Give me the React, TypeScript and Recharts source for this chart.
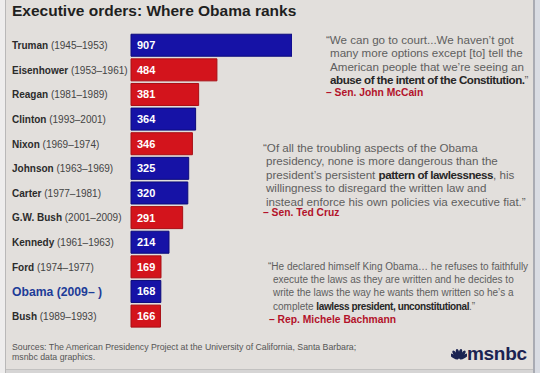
import { Bar, BarChart, Cell, LabelList, XAxis, YAxis } from "recharts";

const presidents = [
  "Truman",
  "Eisenhower",
  "Reagan",
  "Clinton",
  "Nixon",
  "Johnson",
  "Carter",
  "G.W. Bush",
  "Kennedy",
  "Ford",
  "Obama",
  "Bush",
];

const terms = [
  "(1945–1953)",
  "(1953–1961)",
  "(1981–1989)",
  "(1993–2001)",
  "(1969–1974)",
  "(1963–1969)",
  "(1977–1981)",
  "(2001–2009)",
  "(1961–1963)",
  "(1974–1977)",
  "(2009– )",
  "(1989–1993)",
];

const orders = [907, 484, 381, 364, 346, 325, 320, 291, 214, 169, 168, 166];

const parties = ["D", "R", "R", "D", "R", "D", "D", "R", "D", "R", "D", "R"];

const BLUE = "#1612a6";
const RED = "#d3141c";
const FONT = '"Liberation Sans", Arial, sans-serif';

const chartData = presidents.map((name, i) => ({
  name,
  term: terms[i],
  orders: orders[i],
  party: parties[i],
}));

function PresidentTick(props: any) {
  const { y, payload } = props;
  const idx = presidents.indexOf(payload.value);
  const isObama = payload.value === "Obama";
  if (isObama) {
    return (
      <text
        x={12}
        y={y}
        dy={4.5}
        fontFamily={FONT}
        fontSize={12.2}
        fontWeight={700}
        fill="#1d3c98"
      >
        {payload.value} {terms[idx]}
      </text>
    );
  }
  return (
    <text x={12} y={y} dy={3.8} fontFamily={FONT} fontSize={10}>
      <tspan fontWeight={700} fill="#2b2b2b">
        {payload.value}
      </tspan>
      <tspan fill="#444444"> {terms[idx]}</tspan>
    </text>
  );
}

function ValueLabel(props: any) {
  const { x, y, height, value } = props;
  return (
    <text
      x={x + 6}
      y={y + height / 2}
      dy={4}
      fontFamily={FONT}
      fontSize={11}
      fontWeight={700}
      fill="#ffffff"
    >
      {value}
    </text>
  );
}

const quoteText: React.CSSProperties = {
  position: "absolute",
  fontFamily: FONT,
  fontSize: 11.6,
  lineHeight: "13.4px",
  color: "#5e5e5e",
  whiteSpace: "nowrap",
};

const strong: React.CSSProperties = {
  color: "#262626",
  fontWeight: 700,
  letterSpacing: -0.45,
};

const attribution: React.CSSProperties = {
  color: "#b3122a",
  fontWeight: 700,
  fontSize: 10.3,
  letterSpacing: 0,
};

export default function App() {
  return (
    <div
      style={{
        position: "absolute",
        left: 0,
        top: 0,
        width: 540,
        height: 373,
        background: "#e2dfdc",
        overflow: "hidden",
        fontFamily: FONT,
      }}
    >
      {/* frame edges */}
      <div
        style={{
          position: "absolute",
          left: 0,
          top: 0,
          width: 5,
          height: 373,
          background: "#eeeded",
          borderRight: "1px solid #b9b8b8",
        }}
      />
      <div
        style={{
          position: "absolute",
          left: 533,
          top: 0,
          width: 7,
          height: 373,
          background: "#d9dce3",
          borderLeft: "2px solid #a9abb3",
        }}
      />
      <div
        style={{
          position: "absolute",
          left: 6,
          top: 369,
          width: 527,
          height: 4,
          background: "#d6d5d5",
          borderTop: "1px solid #c2c1c0",
        }}
      />

      <div
        style={{
          position: "absolute",
          left: 12,
          top: 2,
          fontSize: 15.5,
          fontWeight: 700,
          color: "#1f1f1f",
          whiteSpace: "nowrap",
        }}
      >
        Executive orders: Where Obama ranks
      </div>

      <div style={{ position: "absolute", left: 0, top: 0 }}>
        <BarChart
          width={292}
          height={330}
          data={chartData}
          layout="vertical"
          margin={{ top: 33, right: 0, bottom: 1.5, left: 0 }}
          barCategoryGap="5%"
        >
          <XAxis type="number" domain={[0, 907]} hide />
          <YAxis
            type="category"
            dataKey="name"
            width={131}
            axisLine={false}
            tickLine={false}
            tick={<PresidentTick />}
            interval={0}
          />
          <Bar dataKey="orders" isAnimationActive={false} strokeWidth={1}>
            {chartData.map((d) => (
              <Cell
                key={d.name}
                fill={d.party === "D" ? BLUE : RED}
                stroke={d.party === "D" ? "#0c0a7a" : "#a80e14"}
              />
            ))}
            <LabelList dataKey="orders" content={<ValueLabel />} />
          </Bar>
        </BarChart>
      </div>

      <div style={{ ...quoteText, left: 326, top: 33 }}>
        <div>“We can go to court...We haven’t got</div>
        <div style={{ paddingLeft: 4 }}>
          many more options except [to] tell the
          <br />
          American people that we’re seeing an
          <br />
          <span style={strong}>abuse of the intent of the Constitution.</span>”
        </div>
        <div style={{ ...attribution, marginTop: -1 }}>– Sen. John McCain</div>
      </div>

      <div style={{ ...quoteText, left: 263, top: 141 }}>
        <div>“Of all the troubling aspects of the Obama</div>
        <div style={{ paddingLeft: 3 }}>
          presidency, none is more dangerous than the
          <br />
          president’s persistent <span style={strong}>pattern of lawlessness</span>, his
          <br />
          willingness to disregard the written law and
          <br />
          instead enforce his own policies via executive fiat.”
        </div>
        <div style={{ ...attribution, marginTop: -2 }}>– Sen. Ted Cruz</div>
      </div>

      <div
        style={{
          ...quoteText,
          left: 268,
          top: 260,
          fontSize: 10,
          lineHeight: "13.2px",
        }}
      >
        <div>“He declared himself King Obama… he refuses to faithfully</div>
        <div style={{ paddingLeft: 5 }}>
          execute the laws as they are written and he decides to
          <br />
          write the laws the way he wants them written so he’s a
          <br />
          complete{" "}
          <span style={{ ...strong, letterSpacing: -0.4 }}>
            lawless president, unconstitutional
          </span>
          .”
        </div>
        <div style={{ ...attribution, marginTop: 0, paddingLeft: 1 }}>
          – Rep. Michele Bachmann
        </div>
      </div>

      <div
        style={{
          position: "absolute",
          left: 12,
          top: 342,
          fontSize: 8.75,
          lineHeight: "10px",
          color: "#555555",
          whiteSpace: "nowrap",
        }}
      >
        Sources: The American Presidency Project at the University of
        California, Santa Barbara;
        <br />
        msnbc data graphics.
      </div>

      <svg
        style={{ position: "absolute", left: 451, top: 347 }}
        width={16}
        height={14}
        viewBox="0 0 18 14"
      >
        {[-60, -36, -12, 12, 36, 60].map((a) => (
          <ellipse
            key={a}
            cx={9}
            cy={6.5}
            rx={1.9}
            ry={5.5}
            fill="#1b2352"
            transform={`rotate(${a} 9 13)`}
          />
        ))}
      </svg>
      <div
        style={{
          position: "absolute",
          left: 467,
          top: 343,
          fontSize: 19,
          fontWeight: 700,
          color: "#1b2352",
          letterSpacing: -0.3,
          whiteSpace: "nowrap",
        }}
      >
        msnbc
      </div>
    </div>
  );
}
